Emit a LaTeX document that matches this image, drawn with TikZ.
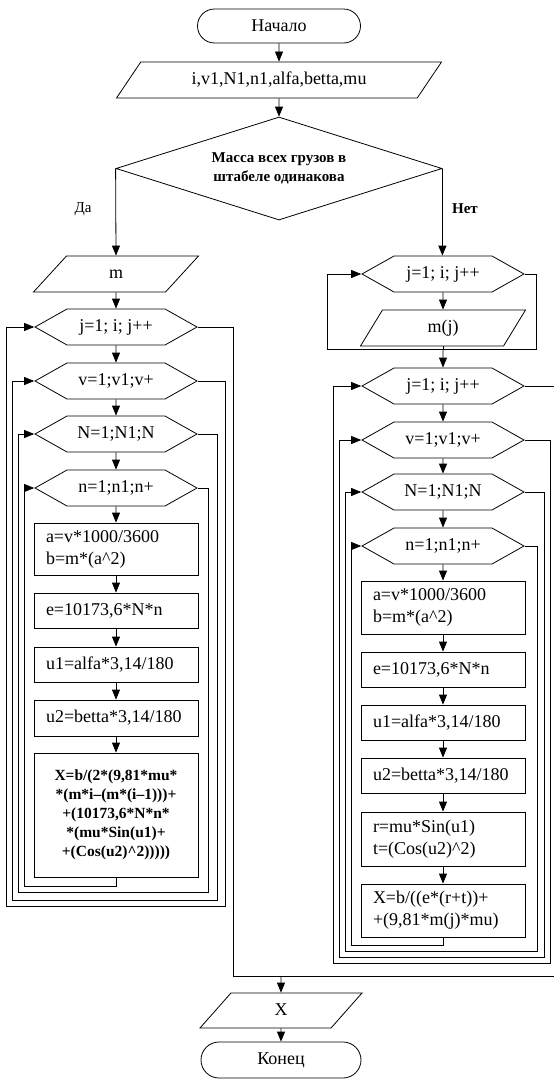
\documentclass[tikz,border=0pt]{standalone}
\usepackage{fontspec}
\setmainfont{Liberation Serif}
\usetikzlibrary{arrows.meta,shapes.geometric,shapes.misc,shapes.symbols}

\begin{document}
\begin{tikzpicture}[x=1pt,y=-1pt,
  every node/.style={font=\fontsize{18}{22}\selectfont},
  shp/.style={draw,line width=0.8pt,inner sep=0pt},
  term/.style={shp,rounded rectangle,minimum width=163pt,minimum height=34pt},
  io/.style={shp,trapezium,trapezium stretches body,text height=13pt,text depth=4pt,inner ysep=9.5pt},
  loopbox/.style={shp,signal,signal to=west and east,signal pointer angle=58.7,text height=13pt,text depth=4pt,inner ysep=9.5pt,minimum width=162pt},
  proc/.style={shp,rectangle,inner xsep=12pt,text width=140pt,align=left},
  arr/.style={draw,line width=0.8pt,-{Triangle[length=10pt,width=8pt]}},
  rail/.style={draw,line width=0.6pt},
  back/.style={rail,-{Triangle[length=10pt,width=8pt]}}]
  \useasboundingbox (0,0) rectangle (554,1082);
  % start and common part
  \node[term] (start) at (279,26) {Начало};
  \node[io,trapezium left angle=56,trapezium right angle=124,minimum width=325pt] (in) at (279,80) {i,v1,N1,n1,alfa,betta,mu};
  \node[shp,diamond,aspect=3.2,minimum width=326pt,minimum height=103pt,align=center,font=\fontsize{15}{19}\selectfont\bfseries] (cond) at (279,168.5) {Масса всех грузов в\\штабеле одинакова};
  \node[font=\fontsize{15}{18}\selectfont] (yes) at (83,209) {Да};
  \node[font=\fontsize{15}{18}\selectfont\bfseries] (no) at (465,209) {Нет};
  % left branch
  \node[io,trapezium left angle=47.5,trapezium right angle=132.5,minimum width=165pt] (m) at (116,274) {m};
  \node[loopbox] (lj) at (116,327) {j=1; i; j++};
  \node[loopbox] (lv) at (116,381) {v=1;v1;v+};
  \node[loopbox] (lN) at (116,434) {N=1;N1;N};
  \node[loopbox] (ln) at (116,488) {n=1;n1;n+};
  \node[proc,minimum height=52pt] (la) at (116,549) {a=v*1000/3600\\b=m*(a\textasciicircum 2)};
  \node[proc,minimum height=35pt] (le) at (116,610.5) {e=10173,6*N*n};
  \node[proc,minimum height=35pt] (lu1) at (116,664.5) {u1=alfa*3,14/180};
  \node[proc,minimum height=36pt] (lu2) at (116,718) {u2=betta*3,14/180};
  \node[proc,minimum height=124pt,align=center,font=\fontsize{15.5}{19}\selectfont\bfseries] (lx) at (116,815)
    {X=b/(2*(9,81*mu*\\{}*(m*i–(m*(i–1)))+\\+(10173,6*N*n*\\{}*(mu*Sin(u1)+\\+(Cos(u2)\textasciicircum 2)))))};
  % right branch
  \node[loopbox] (rj1) at (443,274) {j=1; i; j++};
  \node[io,trapezium left angle=58.6,trapezium right angle=121.4,minimum width=165pt] (mj) at (443,328) {m(j)};
  \node[loopbox] (rj2) at (443,386) {j=1; i; j++};
  \node[loopbox] (rv) at (443,440) {v=1;v1;v+};
  \node[loopbox] (rN) at (443,492) {N=1;N1;N};
  \node[loopbox] (rn) at (443,546) {n=1;n1;n+};
  \node[proc,minimum height=53pt] (ra) at (443,607.5) {a=v*1000/3600\\b=m*(a\textasciicircum 2)};
  \node[proc,minimum height=35pt] (re) at (443,669.5) {e=10173,6*N*n};
  \node[proc,minimum height=35pt] (ru1) at (443,722.5) {u1=alfa*3,14/180};
  \node[proc,minimum height=35pt] (ru2) at (443,775.5) {u2=betta*3,14/180};
  \node[proc,minimum height=54pt] (rr) at (443,839) {r=mu*Sin(u1)\\t=(Cos(u2)\textasciicircum 2)};
  \node[proc,minimum height=53pt] (rx) at (443,910.5) {X=b/((e*(r+t))+\\+(9,81*m(j)*mu)};
  % end
  \coordinate (jn) at (281,976);
  \node[io,trapezium left angle=48.5,trapezium right angle=131.5,minimum width=162pt,inner ysep=9pt] (out) at (281,1010.5) {X};
  \node[term,minimum width=160pt,minimum height=36pt] (stop) at (281,1060) {Конец};

  % main flow
  \draw[arr] (start) -- (in);
  \draw[arr] (in) -- (cond);
  \draw[arr] (cond.west) -- (m.north);
  \draw[arr,line width=1.2pt] (cond.east) -- (cond.east |- rj1.north);
  \draw[arr] (m) -- (lj);
  \draw[arr] (lj) -- (lv);
  \draw[arr] (lv) -- (lN);
  \draw[arr] (lN) -- (ln);
  \draw[arr] (ln) -- (la);
  \draw[arr] (la) -- (le);
  \draw[arr] (le) -- (lu1);
  \draw[arr] (lu1) -- (lu2);
  \draw[arr] (lu2) -- (lx);
  \draw[arr] (rj1) -- (mj);
  \draw[arr] ([yshift=-3pt]mj.south) -- (rj2);
  \draw[arr] (rj2) -- (rv);
  \draw[arr] (rv) -- (rN);
  \draw[arr] (rN) -- (rn);
  \draw[arr] (rn) -- (ra);
  \draw[arr] (ra) -- (re);
  \draw[arr] (re) -- (ru1);
  \draw[arr] (ru1) -- (ru2);
  \draw[arr] (ru2) -- (rr);
  \draw[arr] (rr) -- (rx);
  \draw[arr] (jn) -- (out);
  \draw[arr] (out) -- (stop);

  % left loops
  \draw[back] (lx.south) -- ++(0,9) -| ([xshift=-10pt]ln.west) -- (ln.west);
  \draw[back] (ln.east) -- ++(10,0) -- ++(0,404) -| ([xshift=-16pt]lN.west) -- (lN.west);
  \draw[back] (lN.east) -- ++(19,0) -- ++(0,466) -| ([xshift=-22pt]lv.west) -- (lv.west);
  \draw[back] (lv.east) -- ++(27,0) -- ++(0,525) -| ([xshift=-28pt]lj.west) -- (lj.west);
  \draw[rail] (lj.east) -- ++(35,0) |- (jn);

  % right loops
  \draw[back] (mj.south) -- ++(0,3) -| ([xshift=-34pt]rj1.west) -- (rj1.west);
  \draw[rail] (rj1.east) -- ++(11,0) |- ([yshift=-3pt]mj.south);
  \draw[back] (rx.south) -- ++(0,8) -| ([xshift=-10pt]rn.west) -- (rn.west);
  \draw[back] (rn.east) -- ++(12,0) -- ++(0,405) -| ([xshift=-16pt]rN.west) -- (rN.west);
  \draw[back] (rN.east) -- ++(19,0) -- ++(0,465) -| ([xshift=-22pt]rv.west) -- (rv.west);
  \draw[back] (rv.east) -- ++(25,0) -- ++(0,523) -| ([xshift=-28pt]rj2.west) -- (rj2.west);
  \draw[rail] (rj2.east) -- ++(29,0) |- (jn);
\end{tikzpicture}
\end{document}
